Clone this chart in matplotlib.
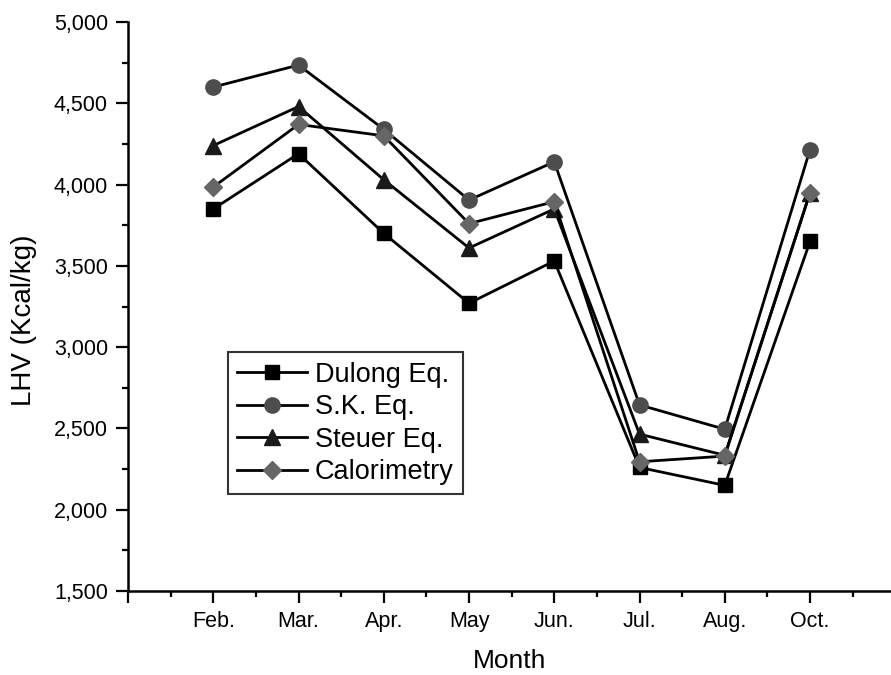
import matplotlib.pyplot as plt
from matplotlib.ticker import FixedLocator, MultipleLocator, FuncFormatter

plt.rcParams['font.family'] = ['Liberation Sans', 'DejaVu Sans']

months = ['Feb.', 'Mar.', 'Apr.', 'May', 'Jun.', 'Jul.', 'Aug.', 'Oct.']
dulong = [3850, 4190, 3700, 3270, 3530, 2260, 2150, 3650]
sk = [4600, 4735, 4340, 3905, 4140, 2645, 2495, 4215]
steuer = [4240, 4480, 4030, 3610, 3850, 2465, 2335, 3950]
calorimetry = [3985, 4370, 4300, 3760, 3895, 2295, 2330, 3950]

x = list(range(1, len(months) + 1))

fig = plt.figure(figsize=(8.91, 6.75), dpi=100)
ax = fig.add_axes([0.1437, 0.1244, 0.8563, 0.843])

ax.plot(x, dulong, color='black', lw=2, marker='s', ms=10, mfc='black', mec='black', label='Dulong Eq.')
ax.plot(x, sk, color='black', lw=2, marker='o', ms=11, mfc='#4d4d4d', mec='#4d4d4d', label='S.K. Eq.')
ax.plot(x, steuer, color='black', lw=2, marker='^', ms=12, mfc='#1a1a1a', mec='#1a1a1a', label='Steuer Eq.')
ax.plot(x, calorimetry, color='black', lw=2, marker='D', ms=9, mfc='#666666', mec='#666666', label='Calorimetry')

ax.set_xlim(0, 8.95)
ax.set_ylim(1500, 5000)

ax.xaxis.set_major_locator(FixedLocator(range(0, 9)))
ax.xaxis.set_major_formatter(FuncFormatter(lambda v, p: months[int(round(v)) - 1] if 1 <= round(v) <= 8 else ''))
ax.xaxis.set_minor_locator(MultipleLocator(0.5))
ax.yaxis.set_major_locator(MultipleLocator(500))
ax.yaxis.set_minor_locator(MultipleLocator(250))
ax.yaxis.set_major_formatter(FuncFormatter(lambda v, p: f'{int(v):,}'))

ax.spines['top'].set_visible(False)
ax.spines['right'].set_visible(False)
for s in ['left', 'bottom']:
    ax.spines[s].set_linewidth(1.8)

ax.tick_params(which='major', length=8.5, width=1.6, labelsize=15.5, direction='out', pad=6)
ax.tick_params(which='minor', length=4.5, width=1.6, direction='out')

ax.set_xlabel('Month', fontsize=19, labelpad=12)
ax.set_ylabel('LHV (Kcal/kg)', fontsize=20)
ax.yaxis.set_label_coords(-0.119, 0.476)

leg = ax.legend(loc='upper left', bbox_to_anchor=(0.131, 0.42), borderaxespad=0,
                fontsize=19.5, frameon=True, fancybox=False, edgecolor='black',
                handlelength=2.55, handletextpad=0.3, labelspacing=0.24,
                borderpad=0.35)
leg.get_frame().set_linewidth(1.5)

fig.savefig('out.png', dpi=100)
